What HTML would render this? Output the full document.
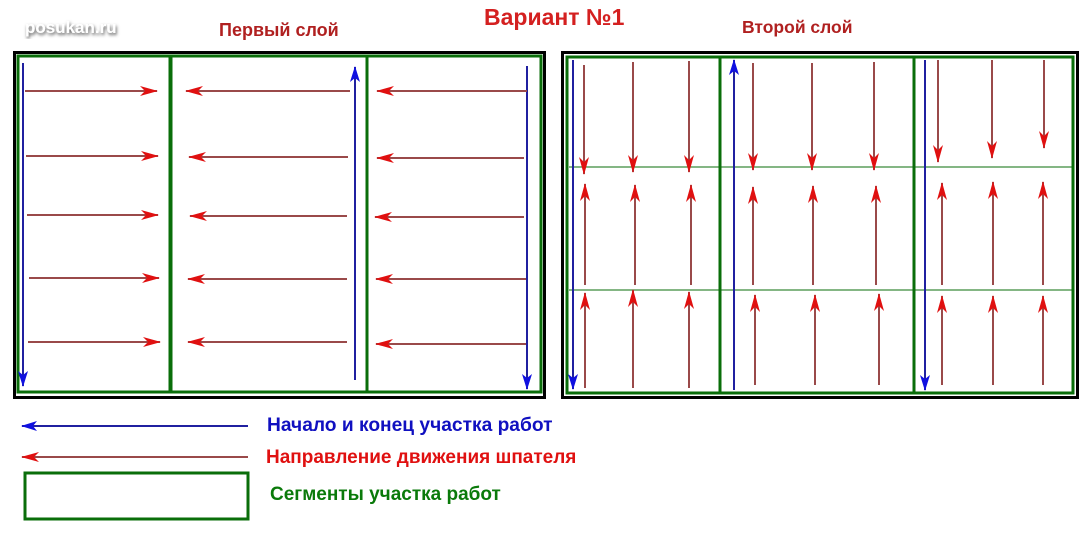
<!DOCTYPE html>
<html><head><meta charset="utf-8"><style>
body{margin:0;background:#fff;width:1085px;height:530px;overflow:hidden}
text{font-family:"Liberation Sans",sans-serif;font-weight:bold}
</style></head><body>
<svg width="1085" height="530" xmlns="http://www.w3.org/2000/svg">
<defs>
<marker id="r" markerWidth="18" markerHeight="10" refX="17" refY="5" orient="auto" markerUnits="userSpaceOnUse"><path d="M0,0 L18,5 L0,10 L5,5z" fill="#e01010"/></marker>
<marker id="b" markerWidth="16" markerHeight="10" refX="15" refY="5" orient="auto" markerUnits="userSpaceOnUse"><path d="M0,0 L16,5 L0,10 L4,5z" fill="#1010e0"/></marker>
<filter id="sh"><feDropShadow dx="1" dy="2" stdDeviation="1.5" flood-color="#555"/></filter>
</defs>
<text x="25" y="33" font-size="17" fill="#fff" filter="url(#sh)">posukan.ru</text>
<text x="484" y="25" font-size="23" fill="#d42020">Вариант №1</text>
<text x="219" y="36" font-size="18" fill="#b02020">Первый слой</text>
<text x="742" y="33" font-size="17.5" fill="#b02020">Второй слой</text>
<rect x="14.5" y="52.5" width="530" height="345" fill="none" stroke="#000" stroke-width="3"/>
<g fill="none" stroke="#0a6e0a" stroke-width="3">
<rect x="18" y="56" width="152" height="336"/><rect x="171" y="56" width="196" height="336"/><rect x="367" y="56" width="174" height="336"/>
</g>
<g stroke="#2020a0" stroke-width="2">
<line x1="23" y1="63" x2="23" y2="386" marker-end="url(#b)"/>
<line x1="355" y1="380" x2="355" y2="67" marker-end="url(#b)"/>
<line x1="527" y1="66" x2="527" y2="389" marker-end="url(#b)"/>
</g>
<g stroke="#9a4a4a" stroke-width="2" marker-end="url(#r)">
<line x1="25" y1="91" x2="157" y2="91"/><line x1="350" y1="91" x2="186" y2="91"/><line x1="527" y1="91" x2="377" y2="91"/>
<line x1="26" y1="156" x2="158" y2="156"/><line x1="348" y1="157" x2="189" y2="157"/><line x1="524" y1="158" x2="377" y2="158"/>
<line x1="27" y1="215" x2="158" y2="215"/><line x1="347" y1="216" x2="190" y2="216"/><line x1="524" y1="217" x2="375" y2="217"/>
<line x1="29" y1="278" x2="159" y2="278"/><line x1="347" y1="279" x2="188" y2="279"/><line x1="526" y1="279" x2="376" y2="279"/>
<line x1="28" y1="342" x2="160" y2="342"/><line x1="347" y1="342" x2="188" y2="342"/><line x1="526" y1="344" x2="376" y2="344"/>
</g>
<rect x="562.5" y="52.5" width="515" height="345" fill="none" stroke="#000" stroke-width="3"/>
<g fill="none" stroke="#0a6e0a" stroke-width="3">
<rect x="567" y="57" width="153" height="336"/><rect x="720" y="57" width="194" height="336"/><rect x="914" y="57" width="159" height="336"/>
</g>
<g stroke="#0a6e0a" stroke-width="1"><line x1="569" y1="167" x2="1072" y2="167"/><line x1="569" y1="290" x2="1072" y2="290"/></g>
<g stroke="#2020a0" stroke-width="2">
<line x1="573" y1="60" x2="573" y2="389" marker-end="url(#b)"/>
<line x1="734" y1="390" x2="734" y2="60" marker-end="url(#b)"/>
<line x1="925" y1="60" x2="925" y2="390" marker-end="url(#b)"/>
</g>
<g stroke="#9a4a4a" stroke-width="2" marker-end="url(#r)">
<line x1="584" y1="65" x2="584" y2="174"/><line x1="633" y1="62" x2="633" y2="172"/><line x1="689" y1="61" x2="689" y2="172"/>
<line x1="753" y1="63" x2="753" y2="170"/><line x1="812" y1="63" x2="812" y2="170"/><line x1="874" y1="62" x2="874" y2="170"/>
<line x1="938" y1="60" x2="938" y2="162"/><line x1="992" y1="60" x2="992" y2="158"/><line x1="1044" y1="60" x2="1044" y2="148"/>
<line x1="585" y1="285" x2="585" y2="184"/><line x1="635" y1="285" x2="635" y2="185"/><line x1="691" y1="285" x2="691" y2="185"/>
<line x1="753" y1="285" x2="753" y2="187"/><line x1="813" y1="285" x2="813" y2="186"/><line x1="876" y1="285" x2="876" y2="186"/>
<line x1="942" y1="285" x2="942" y2="183"/><line x1="993" y1="285" x2="993" y2="182"/><line x1="1043" y1="285" x2="1043" y2="182"/>
<line x1="585" y1="388" x2="585" y2="293"/><line x1="633" y1="388" x2="633" y2="290"/><line x1="689" y1="388" x2="689" y2="292"/>
<line x1="755" y1="385" x2="755" y2="295"/><line x1="815" y1="385" x2="815" y2="295"/><line x1="879" y1="385" x2="879" y2="294"/>
<line x1="942" y1="385" x2="942" y2="296"/><line x1="993" y1="385" x2="993" y2="296"/><line x1="1043" y1="385" x2="1043" y2="296"/>
</g>
<line x1="248" y1="426" x2="22" y2="426" stroke="#2020a0" stroke-width="2" marker-end="url(#b)"/>
<text x="267" y="431" font-size="19.2" fill="#1010c0">Начало и конец участка работ</text>
<line x1="248" y1="457" x2="22" y2="457" stroke="#9a4a4a" stroke-width="2" marker-end="url(#r)"/>
<text x="266" y="463" font-size="19" fill="#e01010">Направление движения шпателя</text>
<rect x="25" y="473" width="223" height="46" fill="none" stroke="#0a6e0a" stroke-width="3"/>
<text x="270" y="500" font-size="19" fill="#0a7a0a">Сегменты участка работ</text>
</svg>
</body></html>
